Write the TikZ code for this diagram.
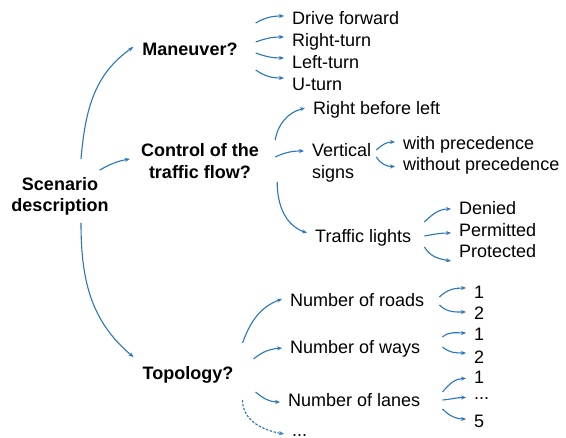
\documentclass[tikz,border=0pt]{standalone}
\usepackage{fontspec}
\setmainfont{Liberation Sans}
\usetikzlibrary{arrows.meta}
\definecolor{arrblue}{RGB}{40,118,188}
\begin{document}
\begin{tikzpicture}[x=1pt, y=1pt, >={Stealth[length=5pt,width=4pt]},
  every node/.style={font=\fontsize{18}{21.6}\selectfont, inner sep=0pt},
  question/.style={font=\fontsize{18}{21.6}\selectfont\bfseries, align=center},
  lf/.style={anchor=west, inner xsep=8pt},
  leaf/.style={lf, text height=13pt, text depth=4pt},
  link/.style={->, arrblue, line width=1.1pt}]

  \useasboundingbox (0,0) rectangle (566,-438);

  % root and the three questions
  \node[question] (scen) at (60,-196.5) {Scenario\\description};
  \node[question] (man) at (190,-49) {Maneuver?};
  \node[question] (ctrl) at (200,-161) {Control of the\\traffic flow?};
  \node[question] (topo) at (188,-375) {Topology?};

  % maneuver
  \node[leaf] (drive) at (284,-20.5) {Drive forward};
  \node[leaf] (right) at (284,-42.5) {Right-turn};
  \node[leaf] (left) at (284,-64) {Left-turn};
  \node[leaf] (uturn) at (284,-86.5) {U-turn};

  % control of the traffic flow
  \node[leaf] (rbl) at (305,-110.5) {Right before left};
  \node[lf, align=left] (vert) at (304,-163) {Vertical\\signs};
  \node[leaf] (with) at (395,-145.5) {with precedence};
  \node[leaf] (without) at (395,-166.5) {without precedence};
  \node[leaf] (lights) at (307,-238.5) {Traffic lights};
  \node[leaf] (denied) at (451,-210.5) {Denied};
  \node[leaf] (permit) at (451,-232) {Permitted};
  \node[leaf] (protect) at (451,-253.5) {Protected};

  % topology
  \node[leaf] (roads) at (282,-302) {Number of roads};
  \node[leaf] (ways) at (282,-349) {Number of ways};
  \node[leaf] (lanes) at (280,-402) {Number of lanes};
  \node[leaf, text depth=0pt] (more) at (284,-430.5) {...};
  \node[leaf] (roadsA) at (466,-294.5) {1};
  \node[leaf] (roadsB) at (466,-315.5) {2};
  \node[leaf] (waysA) at (466,-336.5) {1};
  \node[leaf] (waysB) at (466,-359) {2};
  \node[leaf] (lanesA) at (466,-379) {1};
  \node[leaf, text height=6pt, text depth=0pt] (lanesB) at (466,-396.5) {...};
  \node[leaf] (lanesC) at (466,-423) {5};

  % scenario -> questions
  \draw[link] ([shift={(21,18)}]scen.north) to[out=85, in=215] ([shift={(-9,2)}]man.west);
  \draw[link] ([shift={(-9,7)}]scen.north east) to[out=30, in=190] ([shift={(-11,2)}]ctrl.west);
  \draw[link] ([shift={(21,-7)}]scen.south) to[out=-90, in=140] ([shift={(-9,18)}]topo.west);

  % maneuver -> answers
  \draw[link] ([shift={(18,26)}]man.east) to[out=30, in=180] ([yshift=4.5]drive.west);
  \draw[link] ([shift={(18,7)}]man.east) to[out=20, in=180] ([yshift=5.5]right.west);
  \draw[link] ([shift={(18,-4)}]man.east) to[out=-20, in=180] ([yshift=6]left.west);
  \draw[link] ([shift={(18,-21)}]man.east) to[out=-35, in=180] ([yshift=8.5]uturn.west);

  % control -> answers
  \draw[link] ([shift={(16,21)}]ctrl.east) to[out=80, in=195] ([yshift=2.5]rbl.west);
  \draw[link] ([shift={(16,4)}]ctrl.east) to[out=25, in=180] ([yshift=12]vert.west);
  \draw[link] ([shift={(18,-21)}]ctrl.east) to[out=-90, in=160] ([yshift=5.5]lights.west);
  \draw[link] ([shift={(-3,13)}]vert.east) to[out=45, in=180] ([yshift=3.5]with.west);
  \draw[link] ([shift={(-3,6)}]vert.east) to[out=-60, in=180] (without.west);
  \draw[link] ([shift={(5,16.5)}]lights.east) to[out=45, in=180] ([yshift=1.5]denied.west);
  \draw[link] ([shift={(5,2.5)}]lights.east) to[out=10, in=180] ([yshift=-1]permit.west);
  \draw[link] ([shift={(5,-8.5)}]lights.east) to[out=-60, in=170] ([yshift=-7.5]protect.west);

  % topology -> answers
  \draw[link] ([shift={(9,32)}]topo.east) to[out=70, in=200] ([yshift=3]roads.west);
  \draw[link] ([shift={(20,16)}]topo.east) to[out=40, in=185] ([yshift=1]ways.west);
  \draw[link] ([shift={(22,-17)}]topo.east) to[out=-40, in=180] (lanes.west);
  \draw[link, dash pattern=on 2.5pt off 1.5pt] ([shift={(9,-25)}]topo.east) to[out=-90, in=170] ([yshift=-3.5]more.west);
  \draw[link] ([shift={(7,5)}]roads.east) to[out=45, in=180] ([yshift=6.5]roadsA.west);
  \draw[link] ([shift={(7,-3)}]roads.east) to[out=-45, in=180] ([yshift=3.5]roadsB.west);
  \draw[link] ([shift={(14,12)}]ways.east) to[out=40, in=180] ([yshift=3.5]waysA.west);
  \draw[link] ([shift={(14,2)}]ways.east) to[out=-40, in=180] ([yshift=6]waysB.west);
  \draw[link] ([shift={(14,10)}]lanes.east) to[out=50, in=180] ([yshift=0.5]lanesA.west);
  \draw[link] ([shift={(14,2)}]lanes.east) to[out=5, in=180] ([yshift=-1]lanesB.west);
  \draw[link] ([shift={(14,-7)}]lanes.east) to[out=-45, in=180] ([yshift=4]lanesC.west);

\end{tikzpicture}
\end{document}
